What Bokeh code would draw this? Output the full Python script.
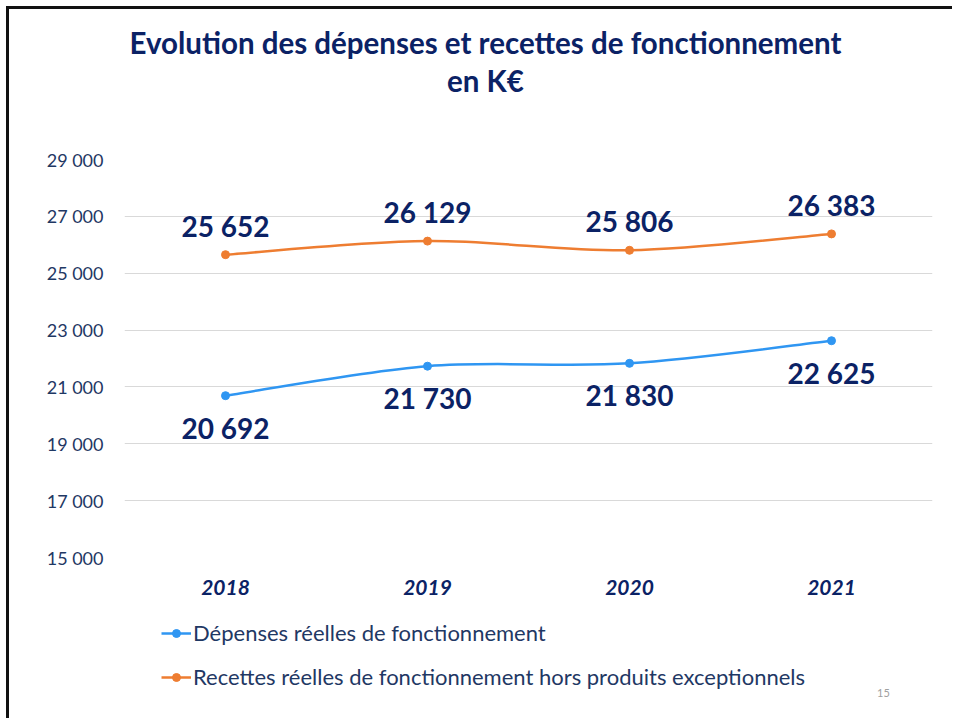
from bokeh.plotting import figure
from bokeh.layouts import column
from bokeh.models import Legend, LegendItem, FixedTicker, Label
from bokeh.core.properties import value
from bokeh.embed import file_html
from bokeh.resources import INLINE

years = ["2018", "2019", "2020", "2021"]
depenses = [20692, 21730, 21830, 22625]
recettes = [25652, 26129, 25806, 26383]
y_ticks = [15000, 17000, 19000, 21000, 23000, 25000, 27000, 29000]
y_tick_labels = ["15 000", "17 000", "19 000", "21 000", "23 000", "25 000", "27 000", "29 000"]
title_lines = ["Evolution des dépenses et recettes de fonctionnement", "en K€"]
series_names = ["Dépenses réelles de fonctionnement",
                "Recettes réelles de fonctionnement hors produits exceptionnels"]
page_number = "15"

BLUE = "#2F96F2"
ORANGE = "#EE7D31"
NAVY = "#0B2265"
NAVY2 = "#1F3864"
FONT = "Lato"

W = 952
H_TITLE, H_MAIN, H_LEG = 140, 465, 113
FRAME_LEFT = 124  # frames of the stacked figures are aligned on the chart's plot area
LEFT_BORDER = "inset 6px 0 0 0 white, inset 9px 0 0 0 #111"


def blank(h, styles):
    f = figure(width=W, height=h, x_range=(0, 1), y_range=(0, 1), output_backend="svg",
               toolbar_location=None, min_border=0, x_axis_location=None, y_axis_location=None)
    f.grid.grid_line_color = None
    f.outline_line_color = None
    f.background_fill_alpha = 0
    f.border_fill_alpha = 0
    f.styles = {"box-shadow": styles}
    return f


# ---- title strip ----
pt = blank(H_TITLE, "inset 6px 0 0 0 white, inset 0 6px 0 0 white, inset 9px 0 0 0 #111, inset 0 9px 0 0 #111")
for txt, yy in zip(title_lines, (98, 60)):
    pt.add_layout(Label(x=485 - FRAME_LEFT, y=yy, x_units="screen", y_units="screen", text=txt,
                        text_align="center", text_baseline="middle", text_font=FONT,
                        text_font_size="29.5px", text_font_style="bold", text_color=NAVY))

# ---- main chart ----
xs = [i + 0.5 for i in range(len(years))]
p = figure(width=W, height=H_MAIN, x_range=(0, len(years)), y_range=(y_ticks[0], y_ticks[-1]),
           output_backend="svg", toolbar_location=None,
           min_border_left=FRAME_LEFT, min_border_right=20, min_border_top=19, min_border_bottom=48)
p.styles = {"box-shadow": LEFT_BORDER}
p.outline_line_color = None
p.background_fill_color = "white"
p.border_fill_alpha = 0

p.yaxis.ticker = FixedTicker(ticks=y_ticks)
p.yaxis.major_label_overrides = {t: l for t, l in zip(y_ticks, y_tick_labels)}
p.yaxis.axis_line_color = None
p.yaxis.major_tick_line_color = None
p.yaxis.minor_tick_line_color = None
p.yaxis.major_label_standoff = 15
p.yaxis.major_label_text_font = FONT
p.yaxis.major_label_text_font_size = "18px"
p.yaxis.major_label_text_color = NAVY2

p.xaxis.ticker = FixedTicker(ticks=xs)
p.xaxis.major_label_overrides = {x: y for x, y in zip(xs, years)}
p.xaxis.axis_line_color = None
p.xaxis.major_tick_line_color = None
p.xaxis.minor_tick_line_color = None
p.xaxis.major_label_standoff = 16
p.xaxis.major_label_text_font = FONT
p.xaxis.major_label_text_font_size = "21px"
p.xaxis.major_label_text_font_style = "bold italic"
p.xaxis.major_label_text_color = NAVY

p.xgrid.grid_line_color = None
p.ygrid.grid_line_color = "#D9D9D9"
p.ygrid.grid_line_width = 1


def smooth(xv, yv):
    n = len(xv)
    out = {k: [] for k in ("x0", "y0", "x1", "y1", "cx0", "cy0", "cx1", "cy1")}
    for i in range(n - 1):
        pm = i - 1 if i > 0 else 0
        pp = i + 2 if i + 2 < n else n - 1
        out["x0"].append(xv[i]); out["y0"].append(yv[i])
        out["x1"].append(xv[i + 1]); out["y1"].append(yv[i + 1])
        out["cx0"].append(xv[i] + (xv[i + 1] - xv[pm]) / 6.0)
        out["cy0"].append(yv[i] + (yv[i + 1] - yv[pm]) / 6.0)
        out["cx1"].append(xv[i + 1] - (xv[pp] - xv[i]) / 6.0)
        out["cy1"].append(yv[i + 1] - (yv[pp] - yv[i]) / 6.0)
    return out


for vals, col in ((depenses, BLUE), (recettes, ORANGE)):
    p.bezier(source=smooth(xs, vals), x0="x0", y0="y0", x1="x1", y1="y1",
             cx0="cx0", cy0="cy0", cx1="cx1", cy1="cy1", line_color=col, line_width=2.5)
    p.scatter(xs, vals, size=8, color=col)

fmt = lambda v: f"{v:,}".replace(",", " ")
p.text(xs, recettes, text=[fmt(v) for v in recettes], text_align="center", text_baseline="middle",
       y_offset=-29, text_font=value(FONT), text_font_size="28px", text_font_style="bold",
       text_color=NAVY)
p.text(xs, depenses, text=[fmt(v) for v in depenses], text_align="center", text_baseline="middle",
       y_offset=32, text_font=value(FONT), text_font_size="28px", text_font_style="bold",
       text_color=NAVY)

# ---- legend strip (series drawn here fall outside its view; only the legend shows) ----
pl = blank(H_LEG, LEFT_BORDER)
items = []
for name, vals, col in zip(series_names, (depenses, recettes), (BLUE, ORANGE)):
    r1 = pl.line(xs, vals, line_color=col, line_width=2.5)
    r2 = pl.scatter(xs, vals, size=8, color=col)
    items.append(LegendItem(label=name, renderers=[r1, r2]))
legend = Legend(items=items, location=(161 - FRAME_LEFT, 28), orientation="vertical",
                glyph_width=30, glyph_height=20, spacing=17, padding=0, margin=0,
                label_standoff=2, label_text_font=FONT, label_text_font_size="22px",
                label_text_color=NAVY2, border_line_color=None, background_fill_alpha=0)
pl.add_layout(legend)
pl.add_layout(Label(x=883 - FRAME_LEFT, y=26, x_units="screen", y_units="screen", text=page_number,
                    text_align="center", text_baseline="middle", text_font=FONT,
                    text_font_size="11px", text_color="#A0A0A0"))

layout = column(pt, p, pl, spacing=0)
open("out.html", "w").write(file_html(layout, INLINE))
